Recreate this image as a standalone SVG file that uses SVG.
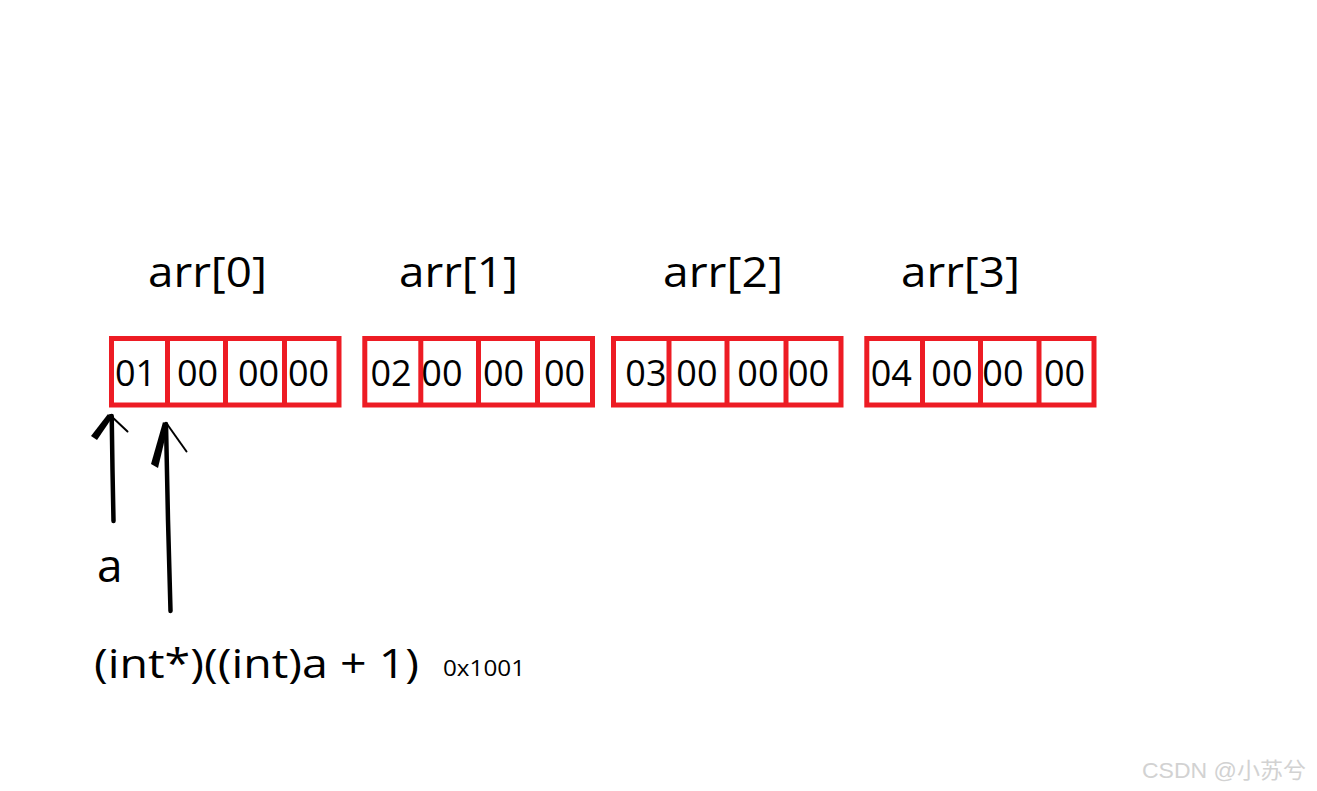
<svg xmlns="http://www.w3.org/2000/svg" width="1317" height="791" viewBox="0 0 1317 791">
<style>
.cell{fill:none;stroke:#ed1c24;stroke-width:5}
.div{stroke:#ed1c24;stroke-width:5}
.byte{font-family:"Open Sans","Noto Sans",sans-serif;font-size:36px;fill:#000}
.lbl{font-family:"Open Sans","Noto Sans",sans-serif;font-size:42px;fill:#000}
.arr{fill:none;stroke:#000;stroke-linecap:round;stroke-linejoin:round}
</style>
<rect width="1317" height="791" fill="#fff"/>
<g id="label-arr0"><text class="lbl" x="148" y="287" textLength="119" lengthAdjust="spacingAndGlyphs">arr[0]</text></g>
<g id="label-arr1"><text class="lbl" x="399" y="287" textLength="119" lengthAdjust="spacingAndGlyphs">arr[1]</text></g>
<g id="label-arr2"><text class="lbl" x="663" y="287" textLength="120" lengthAdjust="spacingAndGlyphs">arr[2]</text></g>
<g id="label-arr3"><text class="lbl" x="901" y="287" textLength="119" lengthAdjust="spacingAndGlyphs">arr[3]</text></g>

<g id="arr0">
<rect class="cell" x="111.5" y="338.5" width="227.5" height="66.5"/>
<line class="div" x1="167.5" y1="338.5" x2="167.5" y2="405"/>
<line class="div" x1="225.5" y1="338.5" x2="225.5" y2="405"/>
<line class="div" x1="284.5" y1="338.5" x2="284.5" y2="405"/>
<text class="byte" x="115" y="385.5">01</text>
<text class="byte" x="177" y="385.5">00</text>
<text class="byte" x="238" y="385.5">00</text>
<text class="byte" x="288" y="385.5">00</text>
</g>
<g id="arr1">
<rect class="cell" x="364.8" y="338.5" width="227.7" height="66.5"/>
<line class="div" x1="420.8" y1="338.5" x2="420.8" y2="405"/>
<line class="div" x1="478.5" y1="338.5" x2="478.5" y2="405"/>
<line class="div" x1="537.5" y1="338.5" x2="537.5" y2="405"/>
<text class="byte" x="370.5" y="385.5">02</text>
<text class="byte" x="421.3" y="385.5">00</text>
<text class="byte" x="483" y="385.5">00</text>
<text class="byte" x="544" y="385.5">00</text>
</g>
<g id="arr2">
<rect class="cell" x="613.5" y="338.5" width="227.5" height="66.5"/>
<line class="div" x1="669" y1="338.5" x2="669" y2="405"/>
<line class="div" x1="727" y1="338.5" x2="727" y2="405"/>
<line class="div" x1="786" y1="338.5" x2="786" y2="405"/>
<text class="byte" x="625.3" y="385.5">03</text>
<text class="byte" x="676.3" y="385.5">00</text>
<text class="byte" x="737.3" y="385.5">00</text>
<text class="byte" x="788" y="385.5">00</text>
</g>
<g id="arr3">
<rect class="cell" x="866.8" y="338.5" width="227.2" height="66.5"/>
<line class="div" x1="922.5" y1="338.5" x2="922.5" y2="405"/>
<line class="div" x1="980.5" y1="338.5" x2="980.5" y2="405"/>
<line class="div" x1="1039" y1="338.5" x2="1039" y2="405"/>
<text class="byte" x="870.7" y="385.5">04</text>
<text class="byte" x="931.3" y="385.5">00</text>
<text class="byte" x="982.3" y="385.5">00</text>
<text class="byte" x="1044" y="385.5">00</text>
</g>

<g id="label-a"><text class="lbl" x="97" y="582" style="font-size:46px">a</text></g>
<g id="label-expr">
<text class="lbl" x="94" y="678" style="font-size:40px" textLength="325" lengthAdjust="spacingAndGlyphs">(int*)((int)a + 1)</text>
<text class="lbl" x="443" y="676" style="font-size:22px" textLength="82" lengthAdjust="spacingAndGlyphs">0x1001</text>
</g>

<g id="connectors">
<g id="arrow-a">
<path class="arr" d="M113.5 521 L112.5 470 L111.7 416" stroke-width="4.5"/>
<polygon points="108,414 112,418 97,440 91,436" fill="#000"/>
<path class="arr" d="M110 415 L127.5 431.5" stroke-width="2"/>
</g>
<g id="arrow-expr">
<path class="arr" d="M170.5 611 L168 520 L166 424" stroke-width="4.5"/>
<polygon points="163,422 168,426 158,468 151,464" fill="#000"/>
<path class="arr" d="M167 424 L186.5 451.5" stroke-width="2"/>
</g>
</g>

<text x="1142" y="778" font-family="'Liberation Sans','Noto Sans CJK SC',sans-serif" font-size="22" fill="#d2d2d2" textLength="164" lengthAdjust="spacingAndGlyphs">CSDN @小苏兮</text>
</svg>
